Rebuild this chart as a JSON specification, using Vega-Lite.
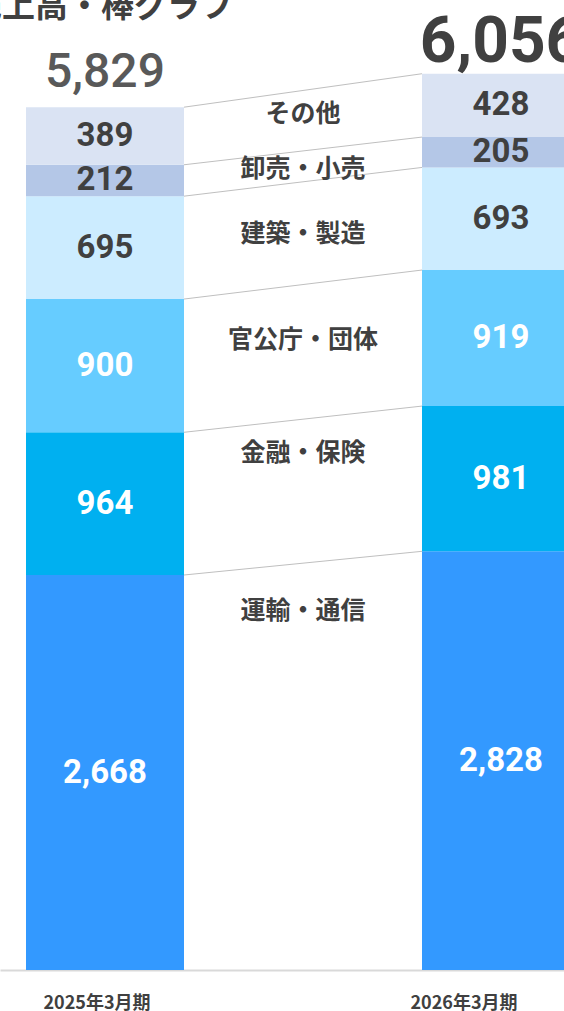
{
  "$schema": "https://vega.github.io/schema/vega-lite/v6.json",
  "width": 564,
  "height": 970,
  "autosize": {"type": "none"},
  "padding": {"left": 0, "top": 0, "right": 0, "bottom": 41},
  "background": "white",
  "config": {"view": {"stroke": null}},
  "datasets": {
    "segments": [
      {"period": "2025年3月期", "seg": "運輸・通信", "k": 1, "v": 2668},
      {"period": "2025年3月期", "seg": "金融・保険", "k": 2, "v": 964},
      {"period": "2025年3月期", "seg": "官公庁・団体", "k": 3, "v": 900},
      {"period": "2025年3月期", "seg": "建築・製造", "k": 4, "v": 695},
      {"period": "2025年3月期", "seg": "卸売・小売", "k": 5, "v": 212},
      {"period": "2025年3月期", "seg": "その他", "k": 6, "v": 389},
      {"period": "2026年3月期", "seg": "運輸・通信", "k": 1, "v": 2828},
      {"period": "2026年3月期", "seg": "金融・保険", "k": 2, "v": 981},
      {"period": "2026年3月期", "seg": "官公庁・団体", "k": 3, "v": 919},
      {"period": "2026年3月期", "seg": "建築・製造", "k": 4, "v": 693},
      {"period": "2026年3月期", "seg": "卸売・小売", "k": 5, "v": 205},
      {"period": "2026年3月期", "seg": "その他", "k": 6, "v": 428}
    ],
    "totals": [
      {"period": "2025年3月期", "total": 5829},
      {"period": "2026年3月期", "total": 6056}
    ],
    "links": [
      {"from": "2025年3月期", "to": "2026年3月期", "a": 5828, "b": 6054},
      {"from": "2025年3月期", "to": "2026年3月期", "a": 5439, "b": 5626},
      {"from": "2025年3月期", "to": "2026年3月期", "a": 5227, "b": 5421},
      {"from": "2025年3月期", "to": "2026年3月期", "a": 4532, "b": 4728},
      {"from": "2025年3月期", "to": "2026年3月期", "a": 3632, "b": 3809},
      {"from": "2025年3月期", "to": "2026年3月期", "a": 2668, "b": 2828}
    ],
    "names": [
      {"name": "その他", "y": 5782},
      {"name": "卸売・小売", "y": 5410},
      {"name": "建築・製造", "y": 4971},
      {"name": "官公庁・団体", "y": 4255},
      {"name": "金融・保険", "y": 3492},
      {"name": "運輸・通信", "y": 2425}
    ],
    "heading": [
      {"period": "2025年3月期", "label": "売上高・棒グラフ", "y": 6437}
    ]
  },
  "layer": [
    {
      "data": {"name": "segments"},
      "mark": {"type": "bar"},
      "encoding": {
        "x": {
          "field": "period",
          "type": "nominal",
          "scale": {
            "domain": ["2025年3月期", "区分", "2026年3月期"],
            "range": [0, 606],
            "paddingInner": 0.202,
            "paddingOuter": 0.1313
          },
          "axis": {
            "values": ["2025年3月期", "2026年3月期"],
            "title": null,
            "ticks": false,
            "tickSize": 0,
            "grid": false,
            "domainColor": "#d9d9d9",
            "domainWidth": 2,
            "labelAngle": 0,
            "labelFont": "Noto Sans CJK JP",
            "labelFontSize": 18,
            "labelFontWeight": "bold",
            "labelColor": "#404040",
            "labelPadding": 24,
            "labelBaseline": "top",
            "labelOverlap": false,
            "labelOffset": {"condition": {"test": "datum.value === '2026年3月期'", "value": -37}, "value": -8}
          }
        },
        "y": {
          "field": "v",
          "type": "quantitative",
          "stack": "zero",
          "scale": {"domain": [0, 6552], "nice": false, "zero": true},
          "axis": null
        },
        "color": {
          "field": "seg",
          "type": "nominal",
          "scale": {
            "domain": ["運輸・通信", "金融・保険", "官公庁・団体", "建築・製造", "卸売・小売", "その他"],
            "range": ["#3399ff", "#00b0f0", "#66ccff", "#ccecff", "#b4c7e7", "#dae3f3"]
          },
          "legend": null
        },
        "order": {"field": "k", "type": "quantitative"}
      }
    },
    {
      "data": {"name": "segments"},
      "mark": {"type": "text", "font": "Roboto", "fontSize": 33, "fontWeight": "bold", "baseline": "middle", "align": "center"},
      "encoding": {
        "x": {"field": "period", "type": "nominal"},
        "y": {"field": "v", "type": "quantitative", "stack": "zero", "bandPosition": 0.5},
        "detail": {"field": "seg"},
        "order": {"field": "k", "type": "quantitative"},
        "text": {"field": "v", "type": "quantitative", "format": ","},
        "color": {
          "condition": {"test": "datum.k >= 4", "value": "#404040"},
          "value": "#ffffff"
        }
      }
    },
    {
      "data": {"name": "links"},
      "mark": {"type": "rule", "color": "#bfbfbf", "strokeWidth": 1},
      "encoding": {
        "x": {"field": "from", "type": "nominal", "bandPosition": 1},
        "x2": {"field": "to", "bandPosition": 0},
        "y": {"field": "a", "type": "quantitative"},
        "y2": {"field": "b"}
      }
    },
    {
      "data": {"name": "names"},
      "mark": {"type": "text", "font": "Noto Sans CJK JP", "fontSize": 25, "fontWeight": "bold", "color": "#404040", "baseline": "middle", "align": "center"},
      "encoding": {
        "x": {"datum": "区分", "type": "nominal"},
        "y": {"field": "y", "type": "quantitative"},
        "text": {"field": "name"}
      }
    },
    {
      "data": {"name": "heading"},
      "mark": {"type": "text", "font": "Noto Sans CJK JP", "fontSize": 33, "fontWeight": "bold", "color": "#404040", "baseline": "alphabetic", "align": "left", "dx": -57},
      "encoding": {
        "x": {"field": "period", "type": "nominal", "bandPosition": 0},
        "y": {"field": "y", "type": "quantitative"},
        "text": {"field": "label"}
      }
    },
    {
      "data": {"name": "totals"},
      "transform": [{"filter": "datum.period === '2025年3月期'"}],
      "mark": {"type": "text", "font": "Roboto", "fontSize": 48, "fontWeight": 500, "color": "#595959", "baseline": "alphabetic", "align": "center", "dy": -20},
      "encoding": {
        "x": {"field": "period", "type": "nominal"},
        "y": {"field": "total", "type": "quantitative"},
        "text": {"field": "total", "type": "quantitative", "format": ","}
      }
    },
    {
      "data": {"name": "totals"},
      "transform": [{"filter": "datum.period === '2026年3月期'"}],
      "mark": {"type": "text", "font": "Roboto", "fontSize": 64, "fontWeight": "bold", "color": "#404040", "baseline": "alphabetic", "align": "center", "dy": -11},
      "encoding": {
        "x": {"field": "period", "type": "nominal"},
        "y": {"field": "total", "type": "quantitative"},
        "text": {"field": "total", "type": "quantitative", "format": ","}
      }
    }
  ]
}
